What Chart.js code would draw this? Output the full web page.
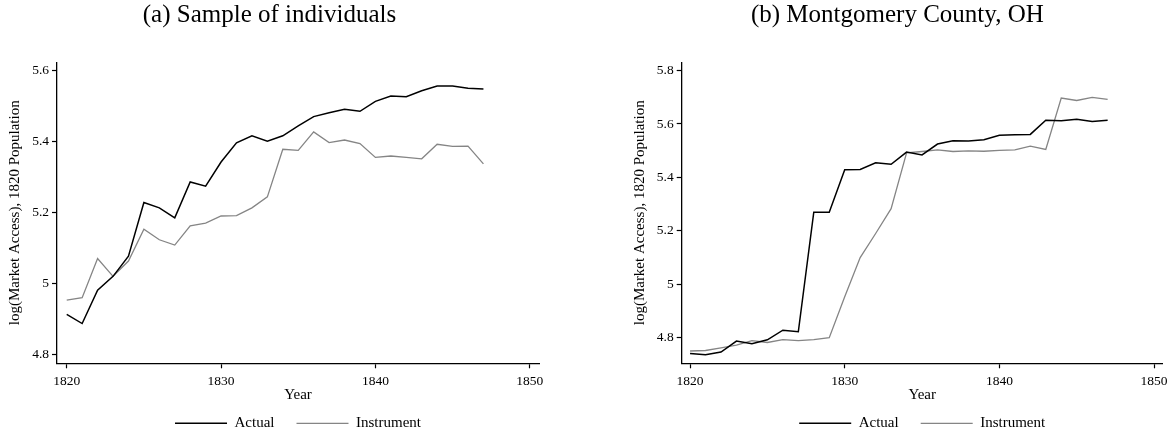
<!DOCTYPE html>
<html>
<head>
<meta charset="utf-8">
<script src="https://cdn.jsdelivr.net/npm/chart.js@4.4.1/dist/chart.umd.min.js"></script>
<style>
  html, body { margin: 0; padding: 0; background: #fff; overflow: hidden; width: 1172px; height: 435px; }
  canvas { position: absolute; top: 0; }
  #chartA { left: 0; }
  #chartB { left: 632px; }
</style>
</head>
<body>
<canvas id="chartA" width="551" height="435"></canvas>
<canvas id="chartB" width="561" height="435"></canvas>
<script>
const years = [1820, 1821, 1822, 1823, 1824, 1825, 1826, 1827, 1828, 1829,
               1830, 1831, 1832, 1833, 1834, 1835, 1836, 1837, 1838, 1839,
               1840, 1841, 1842, 1843, 1844, 1845, 1846, 1847];

// (a) Sample of individuals
const actualA = [4.913, 4.887, 4.981, 5.020, 5.077, 5.228, 5.213, 5.185, 5.286, 5.274,
                 5.342, 5.396, 5.416, 5.401, 5.416, 5.444, 5.470, 5.481, 5.491, 5.485,
                 5.513, 5.528, 5.526, 5.543, 5.556, 5.556, 5.550, 5.548];
const instrA  = [4.953, 4.960, 5.070, 5.020, 5.063, 5.153, 5.123, 5.108, 5.162, 5.170,
                 5.190, 5.191, 5.213, 5.244, 5.378, 5.375, 5.427, 5.397, 5.404, 5.394,
                 5.355, 5.359, 5.355, 5.351, 5.392, 5.386, 5.387, 5.337];

// (b) Montgomery County, OH
const actualB = [4.741, 4.736, 4.746, 4.787, 4.777, 4.792, 4.828, 4.822, 5.270, 5.270,
                 5.429, 5.430, 5.455, 5.449, 5.495, 5.484, 5.525, 5.537, 5.536, 5.541,
                 5.558, 5.560, 5.561, 5.614, 5.612, 5.618, 5.609, 5.614];
const instrB  = [4.750, 4.752, 4.762, 4.772, 4.789, 4.782, 4.793, 4.789, 4.793, 4.800,
                 4.953, 5.100, 5.190, 5.283, 5.492, 5.497, 5.503, 5.497, 5.499, 5.498,
                 5.501, 5.503, 5.517, 5.505, 5.697, 5.688, 5.700, 5.692];

const xTicks  = [1820, 1830, 1840, 1850];
const yTicksA = [4.8, 5, 5.2, 5.4, 5.6];
const yTicksB = [4.8, 5, 5.2, 5.4, 5.6, 5.8];

const serif = 'Liberation Serif';

function toPoints(arr) {
  return years.map((x, i) => ({ x: x, y: arr[i] }));
}

function makePanel(id, opts) {
  const ctx = document.getElementById(id);

  return new Chart(ctx, {
    type: 'line',
    data: {
      datasets: [
        {
          label: 'Actual',
          data: toPoints(opts.actual),
          borderColor: '#000000',
          backgroundColor: '#000000',
          borderWidth: 1.5,
          pointRadius: 0,
          pointStyle: 'line',
          tension: 0
        },
        {
          label: 'Instrument',
          data: toPoints(opts.instr),
          borderColor: '#858585',
          backgroundColor: '#858585',
          borderWidth: 1.3,
          pointRadius: 0,
          pointStyle: 'line',
          tension: 0
        }
      ]
    },
    options: {
      responsive: false,
      animation: false,
      devicePixelRatio: 1,
      layout: {
        padding: { left: 0, right: opts.padRight, top: 0, bottom: 0 }
      },
      scales: {
        x: {
          type: 'linear',
          min: opts.xMin,
          max: opts.xMax,
          afterBuildTicks: (scale) => { scale.ticks = xTicks.map(v => ({ value: v })); },
          afterFit: (scale) => { scale.height = 30.5; },
          ticks: {
            color: '#000',
            font: { family: serif, size: 13.5 },
            padding: 5,
            maxRotation: 0,
            callback: (v) => String(v)
          },
          grid: {
            drawOnChartArea: false,
            drawTicks: true,
            tickLength: 5,
            tickColor: '#000',
            tickWidth: 1.2
          },
          border: { display: true, color: '#000', width: 1.3 },
          title: {
            display: true,
            text: 'Year',
            color: '#000',
            font: { family: serif, size: 15 },
            padding: { top: 0, bottom: -9.9 }
          }
        },
        y: {
          min: opts.yMin,
          max: opts.yMax,
          afterBuildTicks: (scale) => { scale.ticks = opts.yTicks.map(v => ({ value: v })); },
          afterFit: (scale) => { scale.width = opts.yWidth; },
          ticks: {
            color: '#000',
            font: { family: serif, size: 13.5 },
            padding: 3,
            callback: (v) => String(v)
          },
          grid: {
            drawOnChartArea: false,
            drawTicks: true,
            tickLength: 5,
            tickColor: '#000',
            tickWidth: 1.2
          },
          border: { display: true, color: '#000', width: 1.3 },
          title: {
            display: true,
            text: 'log(Market Access), 1820 Population',
            color: '#000',
            font: { family: serif, size: 15 },
            padding: { top: opts.yTitlePad, bottom: 0 }
          }
        }
      },
      plugins: {
        title: {
          display: true,
          text: opts.title,
          color: '#000',
          font: { family: serif, size: 25, weight: 'normal' },
          padding: { top: 0, bottom: 32.3 }
        },
        legend: {
          display: true,
          position: 'bottom',
          fullSize: false,
          maxHeight: 41.2,
          labels: {
            usePointStyle: true,
            pointStyleWidth: 52,
            boxHeight: 15,
            padding: 22,
            color: '#000',
            font: { family: serif, size: 15 }
          }
        },
        tooltip: { enabled: false }
      }
    }
  });
}

makePanel('chartA', {
  title: '(a) Sample of individuals',
  actual: actualA,
  instr: instrA,
  xMin: 1819.37, xMax: 1850.6,
  yMin: 4.775, yMax: 5.623,
  yTicks: yTicksA,
  yWidth: 57,
  yTitlePad: 6.5,
  padRight: 12
});

makePanel('chartB', {
  title: '(b) Montgomery County, OH',
  actual: actualB,
  instr: instrB,
  xMin: 1819.46, xMax: 1850.56,
  yMin: 4.704, yMax: 5.831,
  yTicks: yTicksB,
  yWidth: 49.7,
  yTitlePad: -1,
  padRight: 30.3
});
</script>
</body>
</html>
